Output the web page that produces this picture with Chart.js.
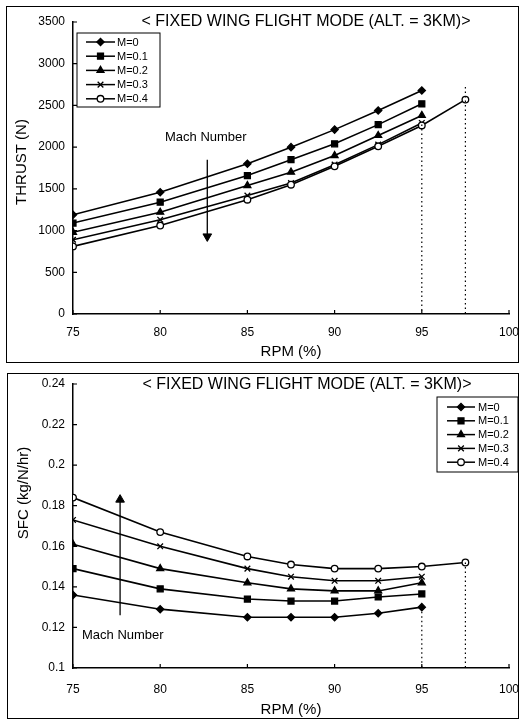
<!DOCTYPE html>
<html lang="en">
  <head>
    <meta charset="UTF-8" />
    <title>Fixed wing flight mode - thrust and SFC</title>
    <style>
      html, body { margin: 0; padding: 0; background: #fff; }
      body { position: relative; width: 520px; height: 720px; overflow: hidden; }
      .box { position: absolute; border: 1.5px solid #000; box-sizing: border-box; }
      canvas { position: absolute; left: 0; }
    </style>
  </head>
  <body>
    <div class="box" style="left:6px;top:6px;width:513px;height:357px"></div>
    <div class="box" style="left:7px;top:373px;width:512px;height:346px"></div>
    <canvas id="thrustChart" width="520" height="366" style="top:0"></canvas>
    <canvas id="sfcChart" width="520" height="354" style="top:366px"></canvas>

    <script src="https://cdn.jsdelivr.net/npm/chart.js"></script>
    <script>
// ---- data ----
const rpm = [75, 80, 85, 87.5, 90, 92.5, 95];
const rpmLong = [75, 80, 85, 87.5, 90, 92.5, 95, 97.5]; // M=0.4 goes one step further
const machLabels = ["M=0", "M=0.1", "M=0.2", "M=0.3", "M=0.4"];
const rpmTicks = [75, 80, 85, 90, 95, 100];

const thrustM0 = [1190, 1460, 1800, 2000, 2210, 2440, 2680];
const thrustM01 = [1090, 1340, 1660, 1850, 2040, 2270, 2520];
const thrustM02 = [980, 1220, 1540, 1700, 1900, 2140, 2380];
const thrustM03 = [890, 1130, 1420, 1570, 1790, 2030, 2290];
const thrustM04 = [810, 1060, 1370, 1550, 1770, 2010, 2260, 2570];
const thrustTicks = [0, 500, 1000, 1500, 2000, 2500, 3000, 3500];

const sfcM0 = [0.136, 0.129, 0.125, 0.125, 0.125, 0.127, 0.130];
const sfcM01 = [0.149, 0.139, 0.134, 0.133, 0.133, 0.135, 0.1365];
const sfcM02 = [0.161, 0.149, 0.142, 0.139, 0.138, 0.138, 0.142];
const sfcM03 = [0.173, 0.160, 0.149, 0.145, 0.143, 0.143, 0.145];
const sfcM04 = [0.184, 0.167, 0.155, 0.151, 0.149, 0.149, 0.150, 0.152];
const sfcTicks = [0.1, 0.12, 0.14, 0.16, 0.18, 0.2, 0.22, 0.24];

// dotted drop lines (rpm, top value) and the "Mach Number" arrows
const thrustDrops = [[95, 2270], [97.5, 2720]];
const sfcDrops = [[95, 0.130], [97.5, 0.152]];
const thrustArrow = { rpm: 82.7, from: 1850, to: 930 };
const sfcArrow = { rpm: 77.7, from: 0.126, to: 0.183 };

const titleText = "< FIXED WING FLIGHT MODE (ALT. = 3KM)>";
const FONT = "'Liberation Sans', Arial, Helvetica, sans-serif";

Chart.defaults.font.family = FONT;
Chart.defaults.color = "#000";

const markers = [
  { pointStyle: "rectRot", radius: 3.6, fill: "#000" },
  { pointStyle: "rect", radius: 4.2, fill: "#000" },
  { pointStyle: "triangle", radius: 4, fill: "#000" },
  { pointStyle: "crossRot", radius: 4, fill: "#000" },
  { pointStyle: "circle", radius: 3.3, fill: "#fff" },
];

const pts = (xs, ys) => ys.map((y, i) => ({ x: xs[i], y: y }));

const seriesSets = (lists) =>
  lists.map((ys, i) => ({
    label: machLabels[i],
    data: pts(i === 4 ? rpmLong : rpm, ys),
    borderColor: "#000",
    borderWidth: 1.6,
    pointStyle: markers[i].pointStyle,
    pointRadius: markers[i].radius,
    pointBackgroundColor: markers[i].fill,
    pointBorderColor: "#000",
    pointBorderWidth: 1.3,
    tension: 0,
    order: 5 - i,
  }));

const dropSets = (drops, base) =>
  drops.map(([x, top]) => ({
    data: [{ x: x, y: top }, { x: x, y: base }],
    borderColor: "#000",
    borderWidth: 1.2,
    borderDash: [1.5, 3],
    pointRadius: 0,
  }));

const arrowSet = (a, down) => ({
  data: [{ x: a.rpm, y: a.from }, { x: a.rpm, y: a.to }],
  borderColor: "#000",
  borderWidth: 1.3,
  pointStyle: "triangle",
  pointRadius: [0, 5],
  pointRotation: down ? 180 : 0,
  pointBackgroundColor: "#000",
  pointBorderColor: "#000",
  pointBorderWidth: 1,
});

// titles, legend box, note, y title, inward tick marks
const decor = {
  id: "decor",
  afterDraw(chart, args, o) {
    const ctx = chart.ctx;
    const area = chart.chartArea;
    ctx.save();
    ctx.fillStyle = "#000";
    ctx.strokeStyle = "#000";

    // inward ticks
    ctx.lineWidth = 1.2;
    const xs = chart.scales.x, ys = chart.scales.y;
    ctx.beginPath();
    xs.ticks.forEach((t) => {
      const px = xs.getPixelForValue(t.value);
      ctx.moveTo(px, area.bottom);
      ctx.lineTo(px, area.bottom - 4);
    });
    ys.ticks.forEach((t) => {
      const py = ys.getPixelForValue(t.value);
      ctx.moveTo(area.left, py);
      ctx.lineTo(area.left + 4, py);
    });
    ctx.stroke();

    // title
    ctx.font = "16px " + FONT;
    ctx.textAlign = "center";
    ctx.textBaseline = "middle";
    ctx.fillText(titleText, o.titleX, o.titleY);

    // y axis title
    ctx.save();
    ctx.translate(o.yTitleX, o.yTitleY);
    ctx.rotate(-Math.PI / 2);
    ctx.font = "15px " + FONT;
    ctx.fillText(o.yTitle, 0, 0);
    ctx.restore();

    // note
    ctx.font = "13px " + FONT;
    ctx.textAlign = "left";
    ctx.fillText("Mach Number", o.noteX, o.noteY);

    // legend
    const L = o.legend;
    ctx.lineWidth = 1;
    ctx.strokeRect(L.x, L.y, L.w, L.h);
    ctx.font = "11px " + FONT;
    chart.data.datasets.filter((d) => d.label).forEach((d, i) => {
      const cy = L.y + L.rowTop + i * L.rowGap;
      ctx.lineWidth = 1.5;
      ctx.beginPath();
      ctx.moveTo(L.x + L.lineFrom, cy);
      ctx.lineTo(L.x + L.lineTo, cy);
      ctx.stroke();
      ctx.fillStyle = d.pointBackgroundColor;
      ctx.lineWidth = d.pointBorderWidth;
      Chart.helpers.drawPoint(ctx, {
        pointStyle: d.pointStyle,
        radius: d.pointRadius,
        rotation: 0,
        borderWidth: d.pointBorderWidth,
      }, L.x + (L.lineFrom + L.lineTo) / 2, cy);
      ctx.fillStyle = "#000";
      ctx.fillText(d.label, L.x + L.textX, cy + 0.5);
    });
    ctx.restore();
  },
};

const makeChart = (id, datasets, yTicks, fmt, padTop, labelPad, titlePad, decorOpts) => {
  return new Chart(document.getElementById(id), {
    type: "line",
    data: { datasets: datasets },
    plugins: [decor],
    options: {
      responsive: false,
      animation: false,
      layout: { padding: { top: padTop, right: 11, left: 0, bottom: 0 } },
      plugins: { legend: { display: false }, tooltip: { enabled: false }, decor: decorOpts },
      scales: {
        x: {
          type: "linear",
          min: rpmTicks[0],
          max: rpmTicks[rpmTicks.length - 1],
          afterBuildTicks: (s) => { s.ticks = rpmTicks.map((v) => ({ value: v })); },
          afterFit: (s) => { s.height = 52; s.paddingLeft = 0; s.paddingRight = 0; },
          grid: { drawOnChartArea: false, drawTicks: false },
          border: { color: "#000", width: 1.5 },
          ticks: { padding: labelPad, font: { size: 12 }, color: "#000" },
          title: { display: true, text: "RPM (%)", font: { size: 15 }, padding: { top: 0, bottom: titlePad } },
        },
        y: {
          min: yTicks[0],
          max: yTicks[yTicks.length - 1],
          afterBuildTicks: (s) => { s.ticks = yTicks.map((v) => ({ value: v })); },
          afterFit: (s) => { s.width = 73; s.paddingTop = 0; s.paddingBottom = 0; },
          grid: { drawOnChartArea: false, drawTicks: false },
          border: { color: "#000", width: 1.5 },
          ticks: { padding: 8, font: { size: 12 }, color: "#000", callback: fmt },
        },
      },
    },
  });
};

makeChart(
  "thrustChart",
  seriesSets([thrustM0, thrustM01, thrustM02, thrustM03, thrustM04])
    .concat(dropSets(thrustDrops, 0))
    .concat([arrowSet(thrustArrow, true)]),
  thrustTicks,
  (v) => String(v),
  22, 11, 5,
  {
    titleX: 306, titleY: 22,
    yTitle: "THRUST (N)", yTitleX: 22, yTitleY: 162,
    noteX: 165, noteY: 137,
    legend: { x: 77, y: 33, w: 83, h: 74, rowTop: 9, rowGap: 14.2, lineFrom: 9, lineTo: 38, textX: 40 },
  }
);

makeChart(
  "sfcChart",
  seriesSets([sfcM0, sfcM01, sfcM02, sfcM03, sfcM04])
    .concat(dropSets(sfcDrops, 0.1))
    .concat([arrowSet(sfcArrow, false)]),
  sfcTicks,
  (v) => String(+v.toFixed(2)),
  18, 14, 1,
  {
    titleX: 307, titleY: 19,
    yTitle: "SFC (kg/N/hr)", yTitleX: 24, yTitleY: 127,
    noteX: 82, noteY: 269,
    legend: { x: 437, y: 31, w: 81, h: 75, rowTop: 10, rowGap: 13.8, lineFrom: 10, lineTo: 38, textX: 41 },
  }
);
    </script>
  </body>
</html>
